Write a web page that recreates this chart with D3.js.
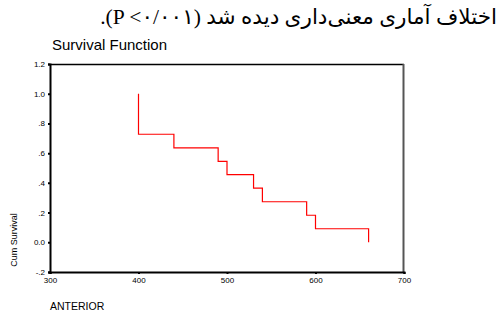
<!DOCTYPE html>
<html>
<head>
<meta charset="utf-8">
<script src="https://cdn.jsdelivr.net/npm/d3@7"></script>
<style>
  body { margin: 0; background: #fff; }
  svg { display: block; }
  .tick text { font-family: Arial, "Liberation Sans", sans-serif; }
</style>
</head>
<body>
<div id="mainContainer"></div>
<script>
'use strict';

var svgWidth = 502,
    svgHeight = 312;

// survival steps (time, cumulative survival)
var times = [400, 400, 440, 490, 500, 530, 540, 590, 600, 660];
var survival = [1.0, 0.727, 0.636, 0.545, 0.455, 0.364, 0.273, 0.182, 0.091, 0.0];

var xTicks = [300, 400, 500, 600, 700];
var yTicks = [-0.2, 0, 0.2, 0.4, 0.6, 0.8, 1.0, 1.2];
var yTickLabels = ['-.2', '0.0', '.2', '.4', '.6', '.8', '1.0', '1.2'];

var caption = 'اختلاف آماری معنی‌داری دیده شد (P <۰/۰۰۱).';

var svg = d3.select('#mainContainer')
    .append('svg')
    .attr('width', svgWidth)
    .attr('height', svgHeight);

var x = d3.scaleLinear().domain([300, 700]).range([50, 404]);
var y = d3.scaleLinear().domain([-0.2, 1.2]).range([272, 64]);

// persian caption, fitted to its width in the picture
var cap = svg.append('text')
    .attr('x', 497)
    .attr('y', 24)
    .attr('direction', 'rtl')
    .attr('text-anchor', 'start')
    .style('font-family', '"Liberation Serif", "DejaVu Sans", serif')
    .style('font-size', '22px')
    .style('fill', '#000')
    .text(caption);
var capW = cap.node().getComputedTextLength();
cap.style('font-size', (22 * 397 / capW).toFixed(2) + 'px');

svg.append('text')
    .attr('x', 52)
    .attr('y', 50)
    .style('font-family', 'Arial, "Liberation Sans", sans-serif')
    .style('font-size', '15px')
    .text('Survival Function');

// frame top and right
svg.append('line')
    .attr('x1', 50).attr('x2', 404)
    .attr('y1', 64.5).attr('y2', 64.5)
    .attr('stroke', '#000')
    .attr('stroke-width', 1.5);
svg.append('line')
    .attr('x1', 403.5).attr('x2', 403.5)
    .attr('y1', 64).attr('y2', 272)
    .attr('stroke', '#555')
    .attr('stroke-width', 2);

var xAxis = svg.append('g')
    .attr('transform', 'translate(0,272)')
    .call(d3.axisBottom(x).tickValues(xTicks).tickSize(2).tickPadding(3));

var yAxis = svg.append('g')
    .attr('transform', 'translate(50,0)')
    .call(d3.axisLeft(y).tickValues(yTicks).tickSize(2).tickPadding(3)
        .tickFormat(function (d, i) { return yTickLabels[i]; }));

[xAxis, yAxis].forEach(function (ax) {
    ax.select('.domain').attr('stroke', '#000').attr('stroke-width', 2);
    ax.selectAll('.tick line').attr('stroke', '#000').attr('stroke-width', 2);
    ax.selectAll('.tick text').style('font-size', '8px').attr('fill', '#000');
});

svg.append('text')
    .attr('transform', 'translate(17,240) rotate(-90)')
    .attr('text-anchor', 'middle')
    .style('font-family', 'Arial, "Liberation Sans", sans-serif')
    .style('font-size', '9px')
    .text('Cum Survival');

svg.append('text')
    .attr('x', 50)
    .attr('y', 310)
    .style('font-family', 'Arial, "Liberation Sans", sans-serif')
    .style('font-size', '10.5px')
    .text('ANTERIOR');

var pts = times.map(function (t, i) { return [t, survival[i]]; });

svg.append('path')
    .datum(pts)
    .attr('fill', 'none')
    .attr('stroke', 'rgb(255,0,0)')
    .attr('stroke-width', 1.2)
    .attr('d', d3.line()
        .x(function (d) { return x(d[0]); })
        .y(function (d) { return y(d[1]); })
        .curve(d3.curveStepAfter));
</script>
</body>
</html>
